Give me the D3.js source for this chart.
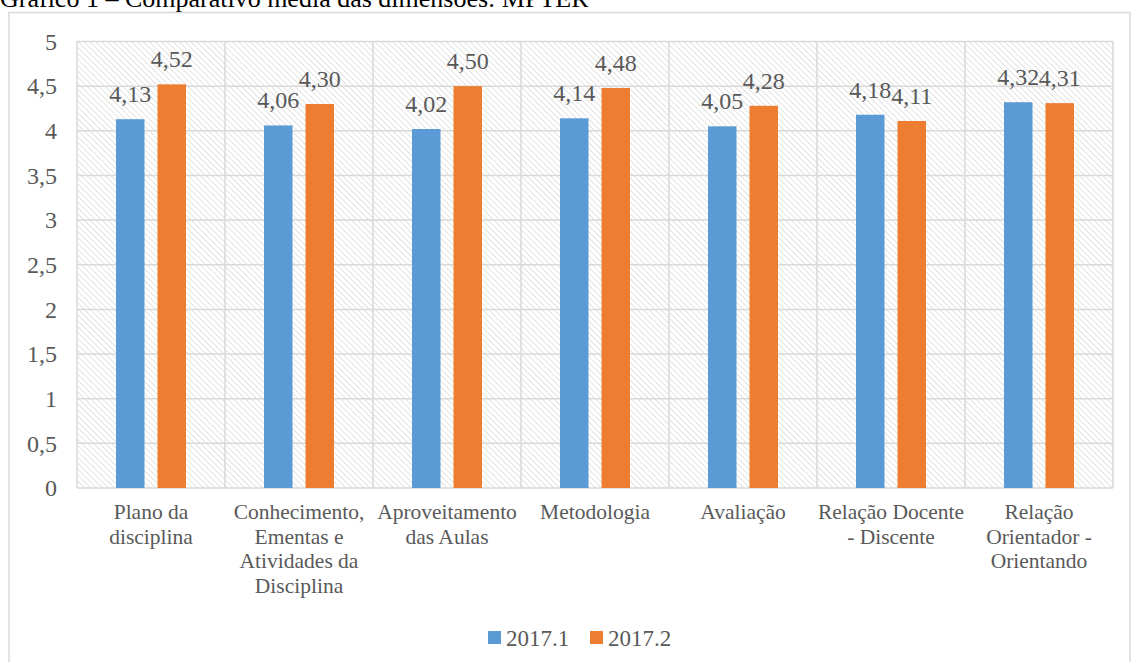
<!DOCTYPE html>
<html>
<head>
<meta charset="utf-8">
<script src="https://cdn.jsdelivr.net/npm/d3@7"></script>
<style>
html,body{margin:0;padding:0;background:#fff;overflow:hidden;}
svg{display:block;}
text{font-family:"Liberation Serif","Times New Roman",serif;fill:#595959;}
</style>
</head>
<body>
<svg id="chart" width="1131" height="662"></svg>
<script>
const title = "Gráfico 1 – Comparativo média das dimensões: MPTER";
const categories = [
  "Plano da disciplina",
  "Conhecimento, Ementas e Atividades da Disciplina",
  "Aproveitamento das Aulas",
  "Metodologia",
  "Avaliação",
  "Relação Docente - Discente",
  "Relação Orientador - Orientando"
];
const seriesNames = ["2017.1", "2017.2"];
const values2017_1 = [4.13, 4.06, 4.02, 4.14, 4.05, 4.18, 4.32];
const values2017_2 = [4.52, 4.30, 4.50, 4.48, 4.28, 4.11, 4.31];
const yTicks = [0, 0.5, 1, 1.5, 2, 2.5, 3, 3.5, 4, 4.5, 5];
const colors = ["#5b9bd5", "#ed7d31"];

const series = [values2017_1, values2017_2];
const fmt = v => d3.format(".2f")(v).replace(".", ",");
const fmtTick = v => String(v).replace(".", ",");

const svg = d3.select("#chart");
const plot = {left: 77, right: 1113, top: 41.5, bottom: 488};

// pattern
const defs = svg.append("defs");
const pat = defs.append("pattern")
  .attr("id", "hatch")
  .attr("patternUnits", "userSpaceOnUse")
  .attr("width", 4.2).attr("height", 4.2)
  .attr("patternTransform", "rotate(-45)");
pat.append("rect").attr("width", 4.2).attr("height", 4.2).attr("fill", "#fff");
pat.append("line").attr("x1", 0).attr("y1", -1).attr("x2", 0).attr("y2", 6)
  .attr("stroke", "#dadada").attr("stroke-width", 1.5);

// outer frame
svg.append("rect").attr("x", 9).attr("y", 12.5).attr("width", 1121).attr("height", 660)
  .attr("fill", "#fff").attr("stroke", "#d9d9d9").attr("stroke-width", 1.5);

// title
svg.append("text").attr("x", 0).attr("y", 7).attr("font-size", 26).style("fill", "#000")
  .text(title);

const x = d3.scaleBand().domain(categories).range([plot.left, plot.right]).paddingInner(0).paddingOuter(0);
const y = d3.scaleLinear().domain([0, 5]).range([plot.bottom, plot.top]);
const barW = 28.5, gap = 13;
const groupW = barW * 2 + gap;

// plot background hatch
svg.append("rect").attr("x", plot.left).attr("y", plot.top)
  .attr("width", plot.right - plot.left).attr("height", plot.bottom - plot.top)
  .attr("fill", "url(#hatch)");

// gridlines
const grid = svg.append("g");
grid.selectAll("line.h").data(yTicks).join("line")
  .attr("x1", plot.left).attr("x2", plot.right)
  .attr("y1", d => y(d)).attr("y2", d => y(d))
  .attr("stroke", "#d9d9d9").attr("stroke-width", 1.5);
const bounds = categories.map(c => x(c)).concat([plot.right]);
grid.selectAll("line.v").data(bounds).join("line")
  .attr("x1", d => d).attr("x2", d => d)
  .attr("y1", plot.top).attr("y2", plot.bottom)
  .attr("stroke", "#d9d9d9").attr("stroke-width", 1.5);

// y axis labels
const yAxis = d3.axisLeft(y).tickValues(yTicks).tickFormat(fmtTick).tickSize(0).tickPadding(20);
const ya = svg.append("g").attr("transform", `translate(${plot.left},0)`).call(yAxis);
ya.select(".domain").remove();
ya.selectAll("text").attr("font-size", 24).attr("font-family", "Liberation Serif").style("fill", "#595959");

// bars
series.forEach((vals, si) => {
  const off = (x.bandwidth() - groupW) / 2 + si * (barW + gap);
  svg.append("g").selectAll("rect").data(vals).join("rect")
    .attr("x", (d, i) => x(categories[i]) + off)
    .attr("y", d => y(d))
    .attr("width", barW)
    .attr("height", d => y(0) - y(d))
    .attr("fill", colors[si]);
  svg.append("g").selectAll("text").data(vals).join("text")
    .attr("x", (d, i) => x(categories[i]) + off + barW / 2)
    .attr("y", d => y(d) - 17)
    .attr("text-anchor", "middle")
    .attr("font-size", 24)
    .text(d => fmt(d));
});

// category labels with wrapping
const xAxis = d3.axisBottom(x).tickSize(0).tickPadding(0);
const xa = svg.append("g").attr("transform", `translate(0,${plot.bottom})`).call(xAxis);
xa.select(".domain").remove();
xa.selectAll("text").remove();
const wrapW = 155;
xa.selectAll(".tick").each(function(d) {
  const t = d3.select(this).append("text")
    .attr("text-anchor", "middle").attr("font-size", 21.5)
    .attr("font-family", "Liberation Serif").style("fill", "#595959");
  const words = d.split(" ");
  let lines = [], cur = [];
  let tsp = t.append("tspan").attr("x", 0);
  words.forEach(w => {
    cur.push(w);
    tsp.text(cur.join(" "));
    if (tsp.node().getComputedTextLength() > wrapW && cur.length > 1) {
      cur.pop();
      lines.push(cur.join(" "));
      cur = [w];
    }
  });
  lines.push(cur.join(" "));
  t.selectAll("tspan").remove();
  lines.forEach((l, i) => {
    t.append("tspan").attr("x", 0).attr("y", 31 + i * 24.7).text(l);
  });
});

// legend
const legend = svg.append("g");
const legX = [488, 590];
seriesNames.forEach((n, i) => {
  legend.append("rect").attr("x", legX[i]).attr("y", 631).attr("width", 13).attr("height", 13).attr("fill", colors[i]);
  legend.append("text").attr("x", legX[i] + 18).attr("y", 645.5).attr("font-size", 23).text(n);
});
</script>
</body>
</html>
